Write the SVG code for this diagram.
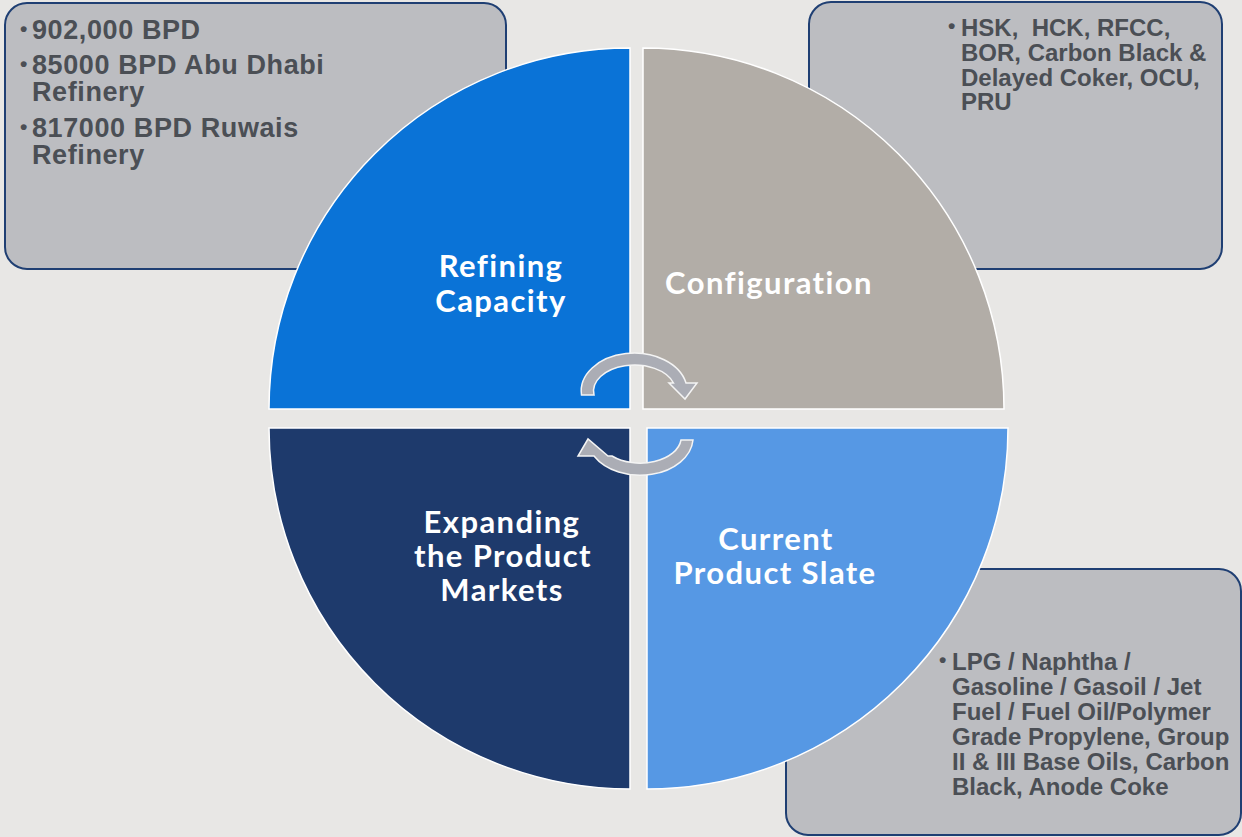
<svg xmlns="http://www.w3.org/2000/svg" width="1242" height="837" viewBox="0 0 1242 837">
<defs>
<style>
.box{fill:#bcbdc1;stroke:#1f3f73;stroke-width:2}
.btxt{font-family:"Liberation Sans",Arial,sans-serif;font-weight:bold;fill:#4b4f55}
.bul{font-size:21px}
.q{stroke:#ffffff;stroke-width:1.5}
.lbl{font-family:Lato,"Open Sans",sans-serif;font-weight:bold;font-size:31px;letter-spacing:1.4px;fill:#ffffff;text-anchor:middle}
.arr{fill:#abadb5;stroke:#f4f4f4;stroke-width:1.5;stroke-linejoin:miter}
</style>
</defs>
<rect x="0" y="0" width="1242" height="837" fill="#e8e7e5"/>

<g id="box-capacity">
<rect class="box" x="5" y="3" width="501" height="266" rx="22"/>
<text class="btxt" font-size="27" letter-spacing="0.6">
<tspan class="bul" x="20" y="36">•</tspan><tspan x="32" y="39">902,000 BPD</tspan>
<tspan class="bul" x="20" y="71">•</tspan><tspan x="32" y="74">85000 BPD Abu Dhabi</tspan>
<tspan x="32" y="101">Refinery</tspan>
<tspan class="bul" x="20" y="134">•</tspan><tspan x="32" y="137">817000 BPD Ruwais</tspan>
<tspan x="32" y="164">Refinery</tspan>
</text>
</g>

<g id="box-configuration">
<rect class="box" x="809" y="2" width="413" height="267" rx="22"/>
<text class="btxt" font-size="24" xml:space="preserve"><tspan class="bul" x="948" y="33">•</tspan><tspan x="961" y="36">HSK,  HCK, RFCC,</tspan><tspan x="961" y="61">BOR, Carbon Black &amp;</tspan><tspan x="961" y="86">Delayed Coker, OCU,</tspan><tspan x="961" y="110">PRU</tspan></text>
</g>

<g id="box-product-slate">
<rect class="box" x="786" y="569" width="455" height="266" rx="22"/>
<text class="btxt" font-size="24"><tspan class="bul" x="939" y="667">•</tspan><tspan x="952" y="670">LPG / Naphtha /</tspan><tspan x="952" y="695">Gasoline / Gasoil / Jet</tspan><tspan x="952" y="720">Fuel / Fuel Oil/Polymer</tspan><tspan x="952" y="745">Grade Propylene, Group</tspan><tspan x="952" y="770">II &amp; III Base Oils, Carbon</tspan><tspan x="952" y="795">Black, Anode Coke</tspan></text>
</g>

<g id="node-refining-capacity">
<path class="q" fill="#0a73d7" d="M630,409 L269,409 A361,361 0 0 1 630,48 Z"/>
<text class="lbl"><tspan x="501" y="277">Refining</tspan><tspan x="501" y="312">Capacity</tspan></text>
</g>

<g id="node-configuration">
<path class="q" fill="#b2ada7" d="M643,409 L643,48 A361,361 0 0 1 1004,409 Z"/>
<text class="lbl" x="769" y="294">Configuration</text>
</g>

<g id="node-current-product-slate">
<path class="q" fill="#5698e4" d="M647,428 L1008,428 A361,361 0 0 1 647,789 Z"/>
<text class="lbl"><tspan x="776" y="550">Current</tspan><tspan x="775" y="584">Product Slate</tspan></text>
</g>

<g id="node-expanding-markets">
<path class="q" fill="#1e3a6c" d="M630,428 L630,789 A361,361 0 0 1 269,428 Z"/>
<text class="lbl"><tspan x="502" y="533">Expanding</tspan><tspan x="503" y="567">the Product</tspan><tspan x="502" y="601">Markets</tspan></text>
</g>

<g id="connectors">
<path class="arr" d="M581.5,395 A53,38 0 0 1 686,383 L697,383 L685,399 L669,383 L673.5,383 A41,26 0 0 0 594,395 Z"/>
<path class="arr" d="M693,440 A53,38 0 0 1 594,456 L578,456 L588,439 L608,456 L612,456 A41,26 0 0 0 681,440 Z"/>
</g>
</svg>
